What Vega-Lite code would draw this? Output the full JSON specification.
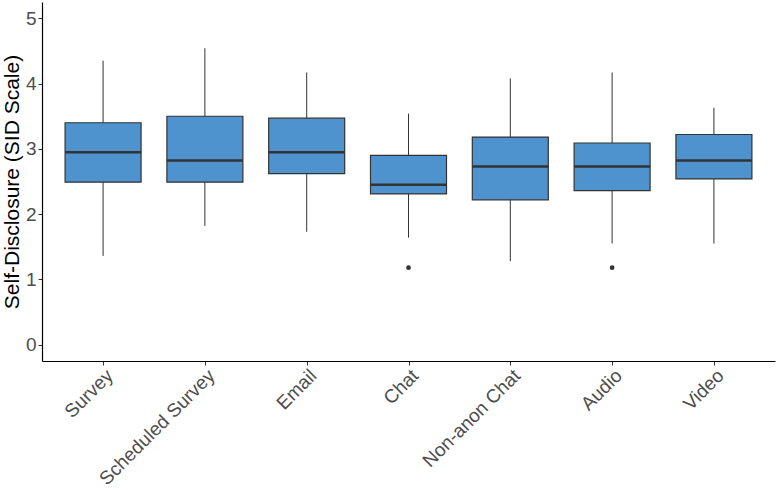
{
  "$schema": "https://vega.github.io/schema/vega-lite/v6.json",
  "autosize": "none",
  "width": 733,
  "height": 359,
  "padding": {"left": 42, "top": 2, "right": 2, "bottom": 129},
  "background": "white",
  "config": {
    "view": {"stroke": null},
    "font": "Liberation Sans",
    "axis": {
      "grid": false,
      "domainColor": "black",
      "domainWidth": 1.2,
      "tickColor": "#333333",
      "tickSize": 4,
      "labelColor": "#4D4D4D",
      "labelFontSize": 19,
      "titleColor": "black",
      "titleFontSize": 21,
      "titleFontWeight": "normal"
    }
  },
  "datasets": {
    "boxes": [
      {"mode": "Survey", "lower": 1.36, "q1": 2.49, "median": 2.95, "q3": 3.40, "upper": 4.35},
      {"mode": "Scheduled Survey", "lower": 1.82, "q1": 2.49, "median": 2.82, "q3": 3.50, "upper": 4.54},
      {"mode": "Email", "lower": 1.73, "q1": 2.62, "median": 2.95, "q3": 3.47, "upper": 4.17},
      {"mode": "Chat", "lower": 1.64, "q1": 2.31, "median": 2.45, "q3": 2.90, "upper": 3.54},
      {"mode": "Non-anon Chat", "lower": 1.28, "q1": 2.22, "median": 2.73, "q3": 3.18, "upper": 4.08},
      {"mode": "Audio", "lower": 1.55, "q1": 2.36, "median": 2.73, "q3": 3.09, "upper": 4.17},
      {"mode": "Video", "lower": 1.55, "q1": 2.54, "median": 2.82, "q3": 3.22, "upper": 3.63}
    ],
    "outliers": [
      {"mode": "Chat", "value": 1.18},
      {"mode": "Audio", "value": 1.18}
    ]
  },
  "data": {"name": "boxes"},
  "encoding": {
    "x": {
      "field": "mode",
      "type": "nominal",
      "sort": ["Survey", "Scheduled Survey", "Email", "Chat", "Non-anon Chat", "Audio", "Video"],
      "scale": {"type": "point", "padding": 0.6},
      "axis": {"title": null, "labelAngle": -45, "labelAlign": "right", "labelBaseline": "top", "labelPadding": 1}
    }
  },
  "layer": [
    {
      "mark": {"type": "rule", "color": "#333333", "strokeWidth": 1},
      "encoding": {
        "y": {
          "field": "lower",
          "type": "quantitative",
          "scale": {"domain": [-0.25, 5.25], "nice": false, "zero": false},
          "axis": {"title": "Self-Disclosure (SID Scale)", "values": [0, 1, 2, 3, 4, 5], "format": "d", "labelPadding": 2, "titlePadding": 3}
        },
        "y2": {"field": "upper"}
      }
    },
    {
      "mark": {"type": "bar", "width": 76, "fill": "#4E93CE", "stroke": "#333333", "strokeWidth": 1.2},
      "encoding": {
        "y": {"field": "q1", "type": "quantitative"},
        "y2": {"field": "q3"}
      }
    },
    {
      "mark": {"type": "tick", "size": 76, "thickness": 2.5, "color": "#333333", "opacity": 1},
      "encoding": {
        "y": {"field": "median", "type": "quantitative"}
      }
    },
    {
      "data": {"name": "outliers"},
      "mark": {"type": "point", "filled": true, "size": 22, "color": "#333333", "opacity": 1},
      "encoding": {
        "y": {"field": "value", "type": "quantitative"}
      }
    }
  ]
}
